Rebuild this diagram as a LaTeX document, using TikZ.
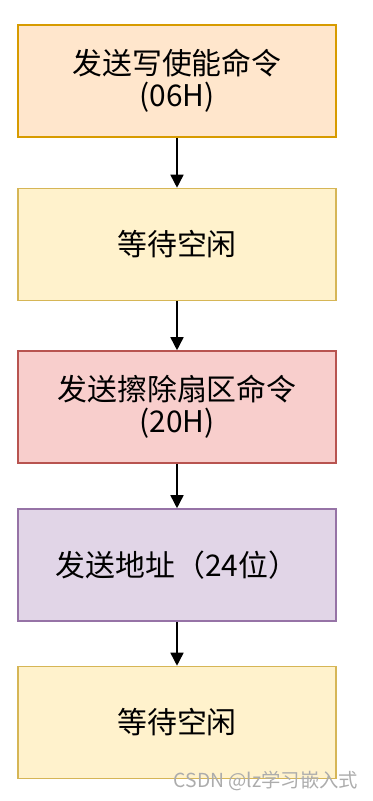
\documentclass[tikz,border=0pt]{standalone}
\usepackage{fontspec}
\newfontfamily\cjk{Noto Sans CJK SC}
\usetikzlibrary{arrows.meta}

\definecolor{orangefill}{HTML}{FFE6CC}
\definecolor{orangeline}{HTML}{D79B00}
\definecolor{yellowfill}{HTML}{FFF2CC}
\definecolor{yellowline}{HTML}{D6B656}
\definecolor{redfill}{HTML}{F8CECC}
\definecolor{redline}{HTML}{B85450}
\definecolor{purplefill}{HTML}{E1D5E7}
\definecolor{purpleline}{HTML}{9673A6}

\begin{document}
\begin{tikzpicture}[
  stepbox/.style={rectangle, draw, line width=0.9pt, minimum width=6.36cm, minimum height=2.24cm, inner sep=0pt,
    font=\cjk\fontsize{17}{18}\selectfont, align=center},
  arrow/.style={-{Triangle[length=2.6mm, width=2.6mm]}, line width=0.9pt},
  watermark/.style={font=\cjk\fontsize{11}{12}\selectfont, text=gray!65},
]
\useasboundingbox (0,0) rectangle (7.46,-16.02);

% === Flow steps ===
\node[stepbox, fill=orangefill, draw=orangeline] (wren) at (3.54, -1.62) {发送写使能命令\\(06H)};
\node[stepbox, fill=yellowfill, draw=yellowline] (wait1) at (3.54, -4.89) {等待空闲};
\node[stepbox, fill=redfill, draw=redline] (erase) at (3.54, -8.14) {发送擦除扇区命令\\(20H)};
\node[stepbox, fill=purplefill, draw=purpleline] (addr) at (3.54, -11.30) {发送地址（24位）};
\node[stepbox, fill=yellowfill, draw=yellowline] (wait2) at (3.54, -14.45) {等待空闲};

% === Connectors ===
\draw[arrow] (wren) -- (wait1);
\draw[arrow] (wait1) -- (erase);
\draw[arrow] (erase) -- (addr);
\draw[arrow] (addr) -- (wait2);

% === Watermark ===
\node[watermark] (wm) at (5.32, -15.62) {CSDN @lz学习嵌入式};

\end{tikzpicture}
\end{document}
